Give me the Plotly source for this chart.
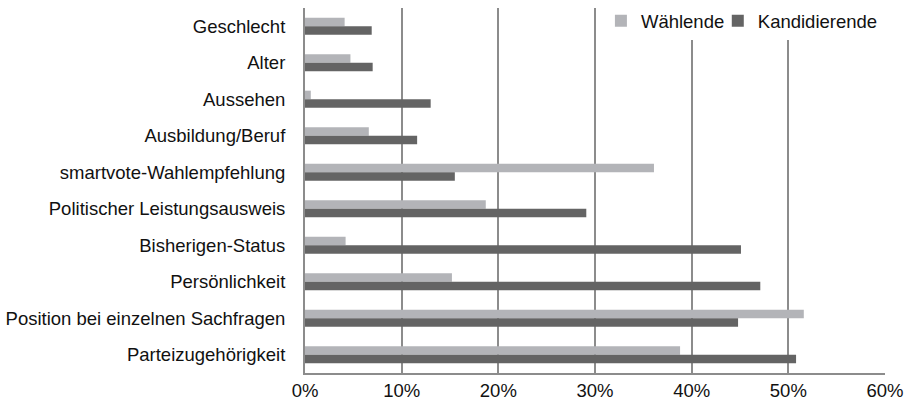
import plotly.graph_objects as go

categories = [
    "Geschlecht",
    "Alter",
    "Aussehen",
    "Ausbildung/Beruf",
    "smartvote-Wahlempfehlung",
    "Politischer Leistungsausweis",
    "Bisherigen-Status",
    "Persönlichkeit",
    "Position bei einzelnen Sachfragen",
    "Parteizugehörigkeit",
]
waehlende = [4.1, 4.7, 0.6, 6.6, 36.1, 18.7, 4.2, 15.2, 51.6, 38.8]
kandidierende = [6.9, 7.0, 13.0, 11.6, 15.5, 29.1, 45.1, 47.1, 44.8, 50.8]
x_ticks = [0, 10, 20, 30, 40, 50, 60]
x_labels = ["0%", "10%", "20%", "30%", "40%", "50%", "60%"]

FONT = "Liberation Sans, Arial, sans-serif"
GRID = "#8c8c8c"
FS = 18.5

fig = go.Figure()
fig.add_trace(go.Bar(
    y=categories, x=waehlende, orientation="h", name="Wählende",
    marker=dict(color="#b3b4b8", line=dict(width=0)), legend="legend",
))
fig.add_trace(go.Bar(
    y=categories, x=kandidierende, orientation="h", name="Kandidierende",
    marker=dict(color="#646464", line=dict(width=0)), legend="legend2",
))

leg_common = dict(orientation="h", xanchor="left", y=1.016, yanchor="top",
                  bgcolor="rgba(0,0,0,0)", borderwidth=0, font=dict(size=FS))

# white backdrop behind the legend (hides gridlines there)
fig.add_shape(type="rect", xref="paper", yref="paper",
              x0=0.5426, x1=1.005, y0=0.9123, y1=1.0,
              fillcolor="white", line=dict(width=0), layer="above")

fig.update_layout(
    width=906, height=404,
    margin=dict(l=305, r=21, t=8, b=31, autoexpand=False),
    paper_bgcolor="white", plot_bgcolor="white",
    barmode="group", bargap=0.53, bargroupgap=0,
    font=dict(family=FONT, size=FS, color="#111111"),
    showlegend=True,
    legend=dict(x=0.5102, **leg_common),
    legend2=dict(x=0.7117, **leg_common),
    xaxis=dict(
        range=[0, 60], tickmode="array", tickvals=x_ticks, ticktext=x_labels,
        showgrid=True, gridcolor=GRID, gridwidth=2,
        showline=True, linecolor=GRID, linewidth=2,
        zeroline=False, ticks="", automargin=False,
        tickfont=dict(size=FS),
    ),
    yaxis=dict(
        type="category", autorange="reversed",
        showgrid=False, showline=True, linecolor=GRID, linewidth=2,
        ticks="", automargin=False, ticklabelstandoff=14,
        tickfont=dict(size=FS),
    ),
)

fig.write_html("out.html")
